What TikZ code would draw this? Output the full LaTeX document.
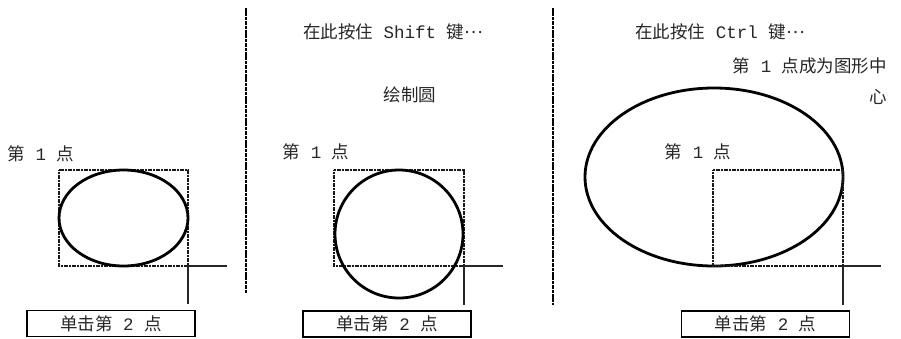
\documentclass[tikz,border=0pt]{standalone}
\usepackage{fontspec}
\usepackage{tikz}
\usetikzlibrary{positioning}
\setmainfont{Noto Sans CJK SC}
\newfontfamily\latfont{Liberation Mono}
\newcommand{\lat}[1]{{\latfont #1}}
\newcommand{\mdots}{\raisebox{0.3em}{…}}
\tikzset{
  lbl/.style={inner sep=0pt, font=\fontsize{17.5}{21}\selectfont, text=black!85},
  dotbox/.style={draw=black!90, line width=1.3pt, dash pattern=on 1.2pt off 0.4pt},
  outline/.style={draw=black, line width=2.8pt},
  hair/.style={draw=black!85, line width=1.2pt},
  divider/.style={draw=black, line width=2.6pt, dash pattern=on 3.5pt off 0.9pt},
  clickbox/.style={rectangle, draw=black, line width=1.4pt, minimum width=168pt, minimum height=26pt, inner sep=0pt, font=\fontsize{17.5}{21}\selectfont, text=black!85},
}

\begin{document}
\begin{tikzpicture}[x=1pt, y=-1pt]
\useasboundingbox (0,0) rectangle (901,338);
% dividers
\coordinate (d1top) at (246,8);
\coordinate (d1bot) at (246,293);
\coordinate (d2top) at (553,8);
\coordinate (d2bot) at (553,305);
\draw[divider] (d1top) -- (d1bot);
\draw[divider] (d2top) -- (d2bot);

% panel 1: plain ellipse
\node[lbl] (p1a) at (41,154) {第\lat{ 1 }点};
\draw[dotbox] (59,170) rectangle (188,266);
\draw[outline] (123.5,218) ellipse [x radius=64.5, y radius=48];
\coordinate (p1b) at (188,266);
\coordinate (p1h) at (227,266);
\coordinate (p1v) at (188,304);
\draw[hair] (p1b) -- (p1h);
\draw[hair] (p1b) -- (p1v);
\node[clickbox] (c1) at (111,323.5) {单击第\lat{ 2 }点};

% panel 2: Shift gives a circle
\node[lbl] (shift) at (393,32) {在此按住\lat{ Shift }键\mdots};
\node[lbl] (circ) at (410,95) {绘制圆};
\node[lbl] (p2a) at (316,152) {第\lat{ 1 }点};
\draw[dotbox] (334,170) rectangle (464,266);
\draw[outline] (399,234) circle [radius=64];
\coordinate (p2b) at (464,266);
\coordinate (p2h) at (503,266);
\coordinate (p2v) at (464,305);
\draw[hair] (p2b) -- (p2h);
\draw[hair] (p2b) -- (p2v);
\node[clickbox] (c2) at (387,324) {单击第\lat{ 2 }点};

% panel 3: Ctrl draws from the centre
\node[lbl] (ctrl) at (720,32) {在此按住\lat{ Ctrl }键\mdots};
\node[lbl, anchor=north east, align=right] (ctr) at (887,58) {第\lat{ 1 }点成为图形中\\[10pt]心};
\node[lbl] (p3a) at (698,152) {第\lat{ 1 }点};
\draw[outline] (714,177) ellipse [x radius=129, y radius=89];
\draw[dotbox] (713,170) rectangle (843,266);
\coordinate (p3b) at (843,266);
\coordinate (p3h) at (881,266);
\coordinate (p3v) at (843,305);
\draw[hair] (p3b) -- (p3h);
\draw[hair] (p3b) -- (p3v);
\node[clickbox] (c3) at (765.5,324) {单击第\lat{ 2 }点};
\end{tikzpicture}
\end{document}
